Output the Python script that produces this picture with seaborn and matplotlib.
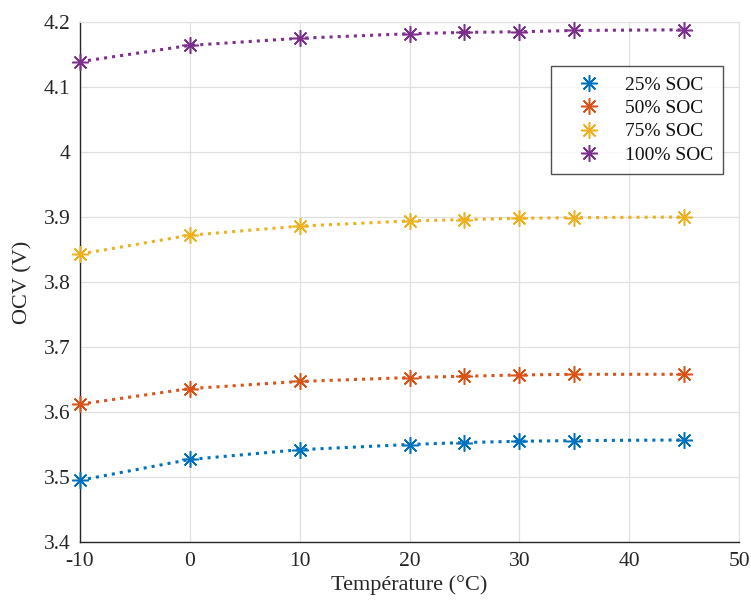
import matplotlib
matplotlib.use("Agg")
import matplotlib.pyplot as plt
from matplotlib.lines import Line2D
import seaborn as sns
import pandas as pd

# Temperatures (°C) and OCV (V) for each state of charge
temperature = [-10, 0, 10, 20, 25, 30, 35, 45]
ocv_25 = [3.495, 3.527, 3.542, 3.550, 3.553, 3.555, 3.556, 3.557]
ocv_50 = [3.612, 3.636, 3.647, 3.653, 3.655, 3.657, 3.658, 3.658]
ocv_75 = [3.843, 3.872, 3.886, 3.894, 3.896, 3.898, 3.899, 3.900]
ocv_100 = [4.139, 4.164, 4.175, 4.182, 4.184, 4.185, 4.187, 4.188]
series_labels = ["25% SOC", "50% SOC", "75% SOC", "100% SOC"]
colors = ["#0072BD", "#D95319", "#EDB120", "#7E2F8E"]
y_ticks = [3.4, 3.5, 3.6, 3.7, 3.8, 3.9, 4.0, 4.1, 4.2]
y_tick_labels = ["3.4", "3.5", "3.6", "3.7", "3.8", "3.9", "4", "4.1", "4.2"]

frames = []
for label, vals in zip(series_labels, [ocv_25, ocv_50, ocv_75, ocv_100]):
    frames.append(pd.DataFrame({"T": temperature, "OCV": vals, "SOC": label}))
df = pd.concat(frames, ignore_index=True)

sns.set_style("white")
plt.rcParams["font.family"] = ["Liberation Serif", "DejaVu Serif"]
plt.rcParams["axes.unicode_minus"] = False

fig = plt.figure(figsize=(7.51, 6.06), dpi=100)
ax = fig.add_axes([80 / 751, 1 - 542 / 606, 659 / 751, 520 / 606])

star = (8, 2, 0)
sns.lineplot(
    data=df, x="T", y="OCV", hue="SOC", palette=colors, hue_order=series_labels,
    marker=star, markersize=12, linestyle=":", linewidth=2.2,
    legend=False, ax=ax,
)
# asterisk markers are drawn by their edge only; keep the -10 markers whole
for line in ax.get_lines():
    line.set_markeredgecolor(line.get_color())
    line.set_markeredgewidth(1.1)
    line.set_clip_on(False)
    line.set_zorder(3)

ax.set_xlim(-10, 50)
ax.set_ylim(3.4, 4.2)
ax.set_xticks(range(-10, 51, 10))
ax.set_yticks(y_ticks)
ax.set_yticklabels(y_tick_labels)
ax.grid(True, color="#e0e0e0", linewidth=0.9)
ax.tick_params(direction="in", length=5, width=1, labelsize=15.5, colors="#262626")
ax.tick_params(axis="y", pad=7)
ax.tick_params(axis="x", pad=7)
for side in ["left", "bottom"]:
    ax.spines[side].set_color("#262626")
    ax.spines[side].set_linewidth(1.0)
for side in ["top", "right"]:
    ax.spines[side].set_color("#e0e0e0")
ax.set_xlabel("Température (°C)", fontsize=16, labelpad=3, color="#262626")
ax.set_ylabel("OCV (V)", fontsize=16, labelpad=8, color="#262626")

handles = [Line2D([], [], color=c, marker=star, markersize=12, markeredgewidth=1.1,
                  markeredgecolor=c, linestyle="none") for c in colors]
leg = ax.legend(handles, series_labels, loc="upper right",
                bbox_to_anchor=(0.976, 0.915), fontsize=14, frameon=True,
                fancybox=False, edgecolor="#262626", borderpad=0.5,
                handletextpad=0.4, labelspacing=0.3, handlelength=2.9,
                borderaxespad=0)
leg.get_frame().set_linewidth(1.0)
for t in leg.get_texts():
    t.set_color("#111111")

fig.savefig("out.png", dpi=100)
